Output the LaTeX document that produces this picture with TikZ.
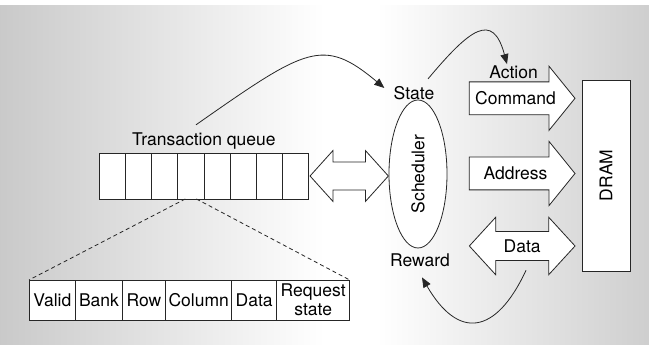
\documentclass[tikz,border=0pt]{standalone}
\usepackage{fontspec}
\setmainfont{TeX Gyre Heros}
\usetikzlibrary{arrows.meta,positioning,calc,shapes.geometric,shapes.arrows}
\pgfdeclarehorizontalshading{bgglow}{100bp}{color(0bp)=(black!21); color(25bp)=(black!21); color(50bp)=(white); color(54bp)=(white); color(75bp)=(black!19); color(100bp)=(black!19)}

\begin{document}
\begin{tikzpicture}[
            x=1pt, y=1pt,
            font=\fontsize{17.5}{19}\selectfont,
            line width=0.8pt,
            cell/.style={draw=black!85, fill=white, minimum width=26.15pt, minimum height=45.7pt, inner sep=0pt, outer sep=0pt},
            field/.style={draw=black!85, fill=white, minimum height=40pt, inner sep=0pt, outer sep=0pt, align=center},
            txt/.style={inner sep=1pt},
            blockarrow/.style={draw=black!85, fill=white, single arrow, text height=12.5pt, text depth=0pt, inner xsep=2pt, inner ysep=9.75pt, single arrow head extend=15.7pt, single arrow tip angle=102, minimum width=63.4pt, minimum height=105.7pt, outer sep=0pt},
            duoarrow/.style={draw=black!85, fill=white, double arrow, text height=12.5pt, text depth=0pt, inner xsep=2pt, outer sep=0pt},
            arr/.style={-{Triangle[length=10pt,width=8pt]}, draw=black!85}
        ]
            \useasboundingbox (0,0) rectangle (649,345);
            \fill[white] (0,0) rectangle (649,345);
            \shade[shading=bgglow] (0,0) rectangle (649,339);

            % transaction queue
            \node[cell] (q1) at (112.4,168.9) {};
            \foreach \i [remember=\i as \j (initially 1)] in {2,...,8}
                \node[cell, right=0pt of q\j] (q\i) {};
            \node[txt, above=3pt of q4.north east] (tq) {Transaction queue};

            % entry fields
            \node[field, minimum width=46.7pt] (f1) at (52.35,45) {Valid};
            \node[field, minimum width=46.6pt, right=0pt of f1] (f2) {Bank};
            \node[field, minimum width=43.4pt, right=0pt of f2] (f3) {Row};
            \node[field, minimum width=66pt, right=0pt of f3] (f4) {Column};
            \node[field, minimum width=45pt, right=0pt of f4] (f5) {Data};
            \node[field, minimum width=73pt, right=0pt of f5] (f6) {Request\\state};
            \draw[dashed, draw=black!85, dash pattern=on 4pt off 3pt] ($(q4.south)+(-5.5,0)$) -- (f1.north west);
            \draw[dashed, draw=black!85, dash pattern=on 4pt off 3pt] ($(q4.south)+(5.5,0)$) -- (f6.north east);

            % scheduler
            \node[duoarrow, inner ysep=7.4pt, double arrow head extend=11.35pt, double arrow tip angle=96, minimum width=50pt, minimum height=78.3pt] (qarrow) at (349.2,169) {};
            \node[draw=black!85, fill=white, ellipse, minimum width=148pt, minimum height=58pt, inner sep=0pt, rotate=90] (sched) at (418,171) {Scheduler};
            \node[txt] (state) at (414,252) {State};
            \node[txt] (reward) at (420,84.5) {Reward};

            % buses to DRAM
            \node[blockarrow, anchor=tail] (cmd) at (469.3,246.7) {Command};
            \node[txt] (action) at (513.5,273) {Action};
            \node[blockarrow, anchor=tail] (addr) at (469.3,171.5) {Address};
            \node[duoarrow, inner ysep=7.9pt, double arrow head extend=14.15pt, double arrow tip angle=95, minimum width=56.6pt, minimum height=105.7pt] (data) at (522.2,99) {Data};
            \node[draw=black!85, fill=white, minimum width=191pt, minimum height=48pt, inner sep=0pt, rotate=90] (dram) at (606,169.5) {DRAM};

            % feedback loop
            \draw[arr] ($(tq.north)+(-8,6)$) .. controls +(35:135) and +(140:80) .. ($(state.west)+(-8,5)$);
            \draw[arr] ($(state.north)+(14,6)$) .. controls +(50:65) and +(105:55) .. ($(action.north)+(-6.5,0)$);
            \draw[arr] ($(data.south)+(3.8,-9.8)$) .. controls +(-115:72) and +(-60:72) .. ($(reward.south)+(2,-9)$);
        \end{tikzpicture}
\end{document}
